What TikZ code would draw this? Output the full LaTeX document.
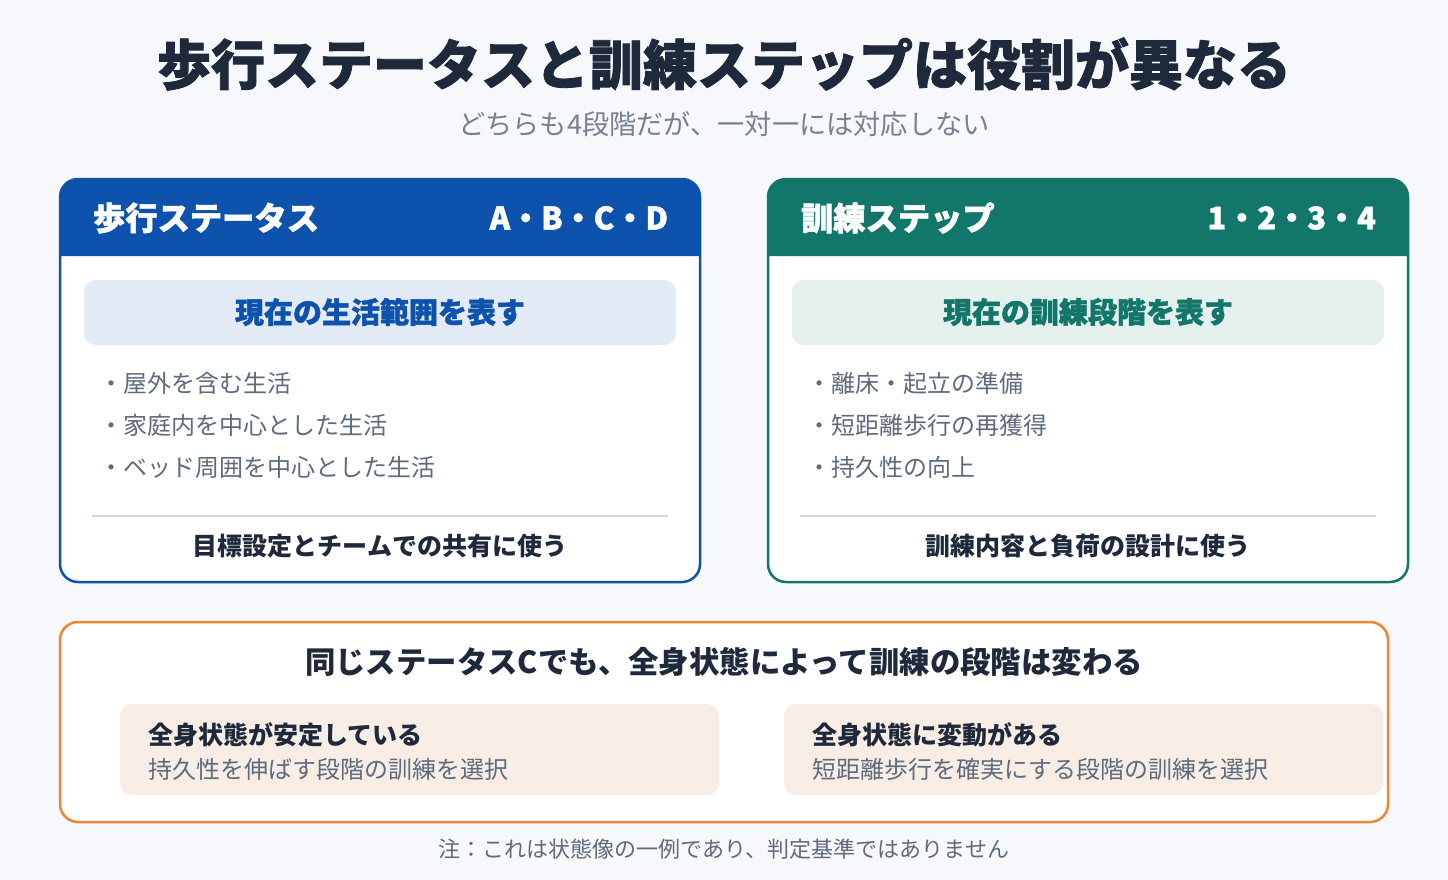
\documentclass[tikz,border=0pt]{standalone}
\usepackage{fontspec}
\setmainfont{Noto Sans CJK JP}
\newfontfamily\heavy{Noto Sans CJK JP}[BoldFeatures={FakeBold=1.5}]
\definecolor{bg}{HTML}{F6F8FB}
\definecolor{cblue}{HTML}{0D52AC}
\definecolor{cteal}{HTML}{12766A}
\definecolor{fblue}{HTML}{E2EAF5}
\definecolor{fteal}{HTML}{E3F0EC}
\definecolor{cgray}{HTML}{5E6B7D}
\definecolor{cdark}{HTML}{1E293B}
\definecolor{corange}{HTML}{EF8530}
\definecolor{fpeach}{HTML}{F7EDE4}
\definecolor{cline}{HTML}{CBD5E1}
\newcommand{\fs}[1]{\fontsize{#1}{#1}\selectfont}
\tikzset{
  txt/.style={inner sep=0pt, outer sep=0pt},
  hdrtxt/.style={txt, text=white, font=\fs{32.3}\heavy\bfseries},
  bul/.style={txt, anchor=west, text=cgray, font=\fs{24}},
  foot/.style={txt, text=cdark, font=\fs{25}\bfseries},
}
\begin{document}
\begin{tikzpicture}[x=1pt,y=-1pt]
\useasboundingbox (0,0) rectangle (1448,880);
\fill[bg] (0,0) rectangle (1448,880);

% Title
\node[txt, text=cdark, font=\fs{54}\heavy\bfseries] (title) at (724,64) {歩行ステータスと訓練ステップは役割が異なる};
\node[txt, text=cgray!85, font=\fs{27.2}] (sub) at (724,124) {どちらも4段階だが、一対一には対応しない};

% Left panel
\fill[white, rounded corners=18pt] (60,179) rectangle (700,582);
\fill[cblue] (60,256) [rounded corners=18pt] -- (60,179) -- (700,179) [sharp corners] -- (700,256) -- cycle;
\draw[cblue, line width=2.5pt, rounded corners=18pt] (60,179) rectangle (700,582);
\node[hdrtxt, anchor=west] (lhead) at (93,218) {歩行ステータス};
\node[hdrtxt, anchor=east, font=\fs{31}\heavy\bfseries] (lgrade) at (668,218) {A・B・C・D};
\fill[fblue, rounded corners=12pt] (84,280) rectangle (676,345);
\node[txt, text=cblue, font=\fs{29}\heavy\bfseries] (lrole) at (380,312) {現在の生活範囲を表す};
\node[bul] (lb1) at (99,383) {・屋外を含む生活};
\node[bul] (lb2) at (99,425) {・家庭内を中心とした生活};
\node[bul] (lb3) at (99,467) {・ベッド周囲を中心とした生活};
\draw[cline, line width=1.5pt] (92,516) -- (668,516);
\node[foot] (lfoot) at (380,546) {目標設定とチームでの共有に使う};

% Right panel
\fill[white, rounded corners=18pt] (768,179) rectangle (1408,582);
\fill[cteal] (768,256) [rounded corners=18pt] -- (768,179) -- (1408,179) [sharp corners] -- (1408,256) -- cycle;
\draw[cteal, line width=2.5pt, rounded corners=18pt] (768,179) rectangle (1408,582);
\node[hdrtxt, anchor=west] (rhead) at (801,218) {訓練ステップ};
\node[hdrtxt, anchor=east, font=\fs{31}\heavy\bfseries] (rgrade) at (1376,218) {1・2・3・4};
\fill[fteal, rounded corners=12pt] (792,280) rectangle (1384,345);
\node[txt, text=cteal, font=\fs{29}\heavy\bfseries] (rrole) at (1088,312) {現在の訓練段階を表す};
\node[bul] (rb1) at (807,383) {・離床・起立の準備};
\node[bul] (rb2) at (807,425) {・短距離歩行の再獲得};
\node[bul] (rb3) at (807,467) {・持久性の向上};
\draw[cline, line width=1.5pt] (800,516) -- (1376,516);
\node[foot] (rfoot) at (1088,546) {訓練内容と負荷の設計に使う};

% Bottom box
\draw[corange, fill=white, line width=2.5pt, rounded corners=18pt] (60,622) rectangle (1388,822);
\node[txt, text=cdark, font=\fs{30.4}\bfseries] (bhead) at (724,662) {同じステータスCでも、全身状態によって訓練の段階は変わる};
\fill[fpeach, rounded corners=12pt] (120,704) rectangle (719,795);
\fill[fpeach, rounded corners=12pt] (784,704) rectangle (1383,795);
\node[txt, anchor=west, text=cdark, font=\fs{25}\bfseries] (c1a) at (148,735) {全身状態が安定している};
\node[txt, anchor=west, text=cgray, font=\fs{24}] (c1b) at (148,769) {持久性を伸ばす段階の訓練を選択};
\node[txt, anchor=west, text=cdark, font=\fs{25}\bfseries] (c2a) at (812,735) {全身状態に変動がある};
\node[txt, anchor=west, text=cgray, font=\fs{24}] (c2b) at (812,769) {短距離歩行を確実にする段階の訓練を選択};

% Note
\node[txt, text=cgray, font=\fs{22}] (note) at (724,849) {注：これは状態像の一例であり、判定基準ではありません};
\end{tikzpicture}
\end{document}
